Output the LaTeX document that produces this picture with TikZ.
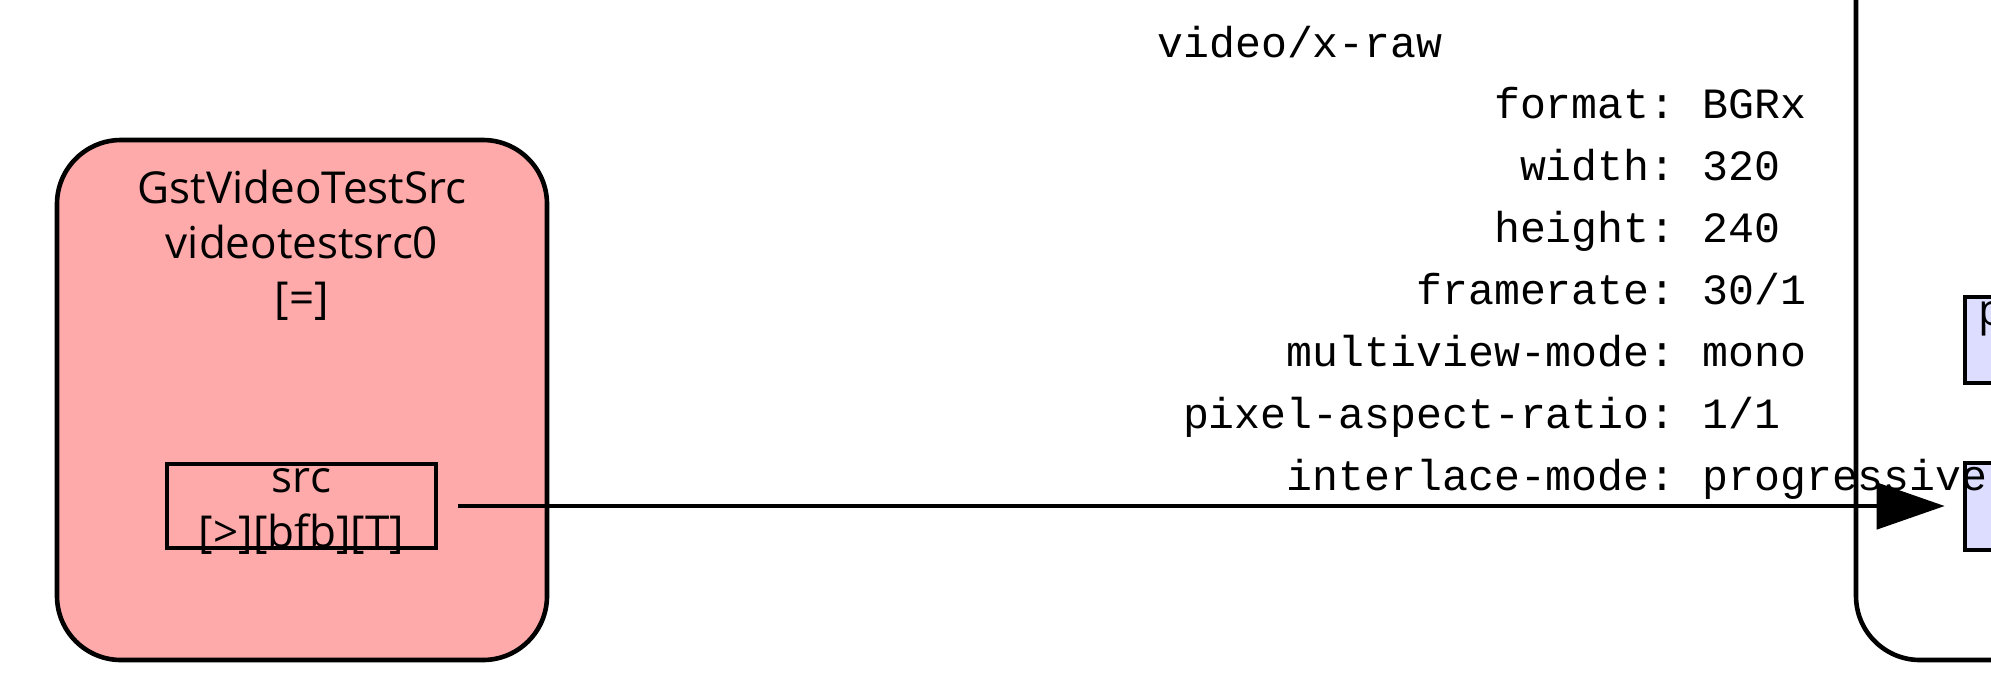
\documentclass[tikz,border=0pt]{standalone}
\usepackage{fontspec}
\setmainfont{Open Sans}
\newfontfamily\capsfont{Liberation Mono}
\usetikzlibrary{arrows.meta}
\definecolor{srcred}{HTML}{FFAAAA}
\definecolor{padblue}{HTML}{DDDDFF}

\begin{document}
\begin{tikzpicture}[x=0.5pt,y=-0.5pt]
\useasboundingbox (0,0) rectangle (1991,698);
\clip (0,0) rectangle (1991,698);

\tikzstyle{ElementStyle}=[draw,line width=2.3pt,rounded corners=32pt,inner sep=0pt]
\tikzstyle{PadStyle}=[draw,line width=2.3pt,inner sep=0pt]
\tikzstyle{NameStyle}=[inner sep=0pt,anchor=base,font=\fontsize{22pt}{27.5pt}\selectfont]
\tikzstyle{CapsStyle}=[inner sep=0pt,font=\capsfont\fontsize{21.6pt}{31pt}\selectfont]

\node[ElementStyle,fill=white,minimum width=172pt,minimum height=430pt] (bin0) at (2028,230) {};
\node[PadStyle,fill=padblue,minimum width=135pt,minimum height=43pt] (bin0proxy) at (2100,340) {};
\node[PadStyle,fill=padblue,minimum width=135pt,minimum height=43.5pt] (bin0sink) at (2100,506.5) {};
\node[NameStyle,anchor=base west] at (1978,325) {p};

\node[ElementStyle,fill=srcred,minimum width=245pt,minimum height=260pt] (vts0) at (302,400) {};
\node[NameStyle] (vts0type) at (302,203) {GstVideoTestSrc};
\node[NameStyle] (vts0name) at (302,258) {videotestsrc0};
\node[NameStyle] (vts0state) at (302,313) {[=]};

\node[PadStyle,fill=srcred,minimum width=134.5pt,minimum height=42pt] (vts0src) at (301.5,506) {};
\node[NameStyle] at (301.5,492) {src};
\node[NameStyle] at (301.5,547) {[>][bfb][T]};

\tikzstyle{EdgeStyle}=[line width=2.3pt,-{Triangle[length=34pt,width=23pt]},shorten <=10pt,shorten >=9pt]

\draw[EdgeStyle] (vts0src.east) -- (vts0src.east -| bin0sink.west);

\node[CapsStyle,anchor=base west] at (1157,57) {video/x-raw};
\node[CapsStyle,anchor=base east] at (1676,118) {format:};
\node[CapsStyle,anchor=base west] at (1702,118) {BGRx};
\node[CapsStyle,anchor=base east] at (1676,180) {width:};
\node[CapsStyle,anchor=base west] at (1702,180) {320};
\node[CapsStyle,anchor=base east] at (1676,242) {height:};
\node[CapsStyle,anchor=base west] at (1702,242) {240};
\node[CapsStyle,anchor=base east] at (1676,304) {framerate:};
\node[CapsStyle,anchor=base west] at (1702,304) {30/1};
\node[CapsStyle,anchor=base east] at (1676,366) {multiview-mode:};
\node[CapsStyle,anchor=base west] at (1702,366) {mono};
\node[CapsStyle,anchor=base east] at (1676,428) {pixel-aspect-ratio:};
\node[CapsStyle,anchor=base west] at (1702,428) {1/1};
\node[CapsStyle,anchor=base east] at (1676,490) {interlace-mode:};
\node[CapsStyle,anchor=base west] at (1702,490) {progressive};

\end{tikzpicture}
\end{document}
